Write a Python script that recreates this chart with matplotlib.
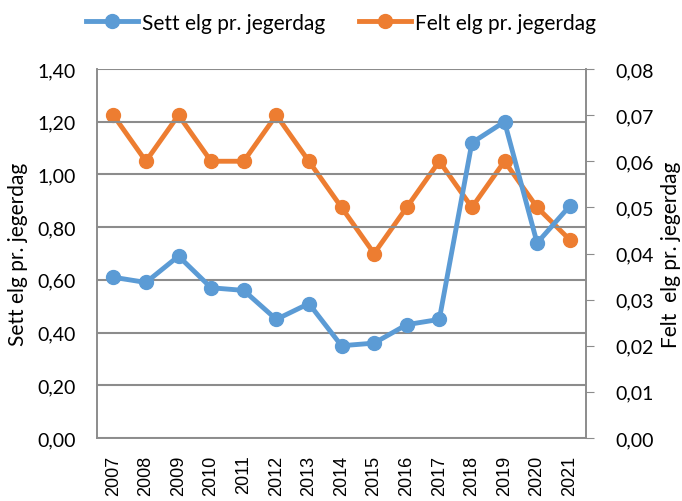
import matplotlib
matplotlib.use("Agg")
import matplotlib.pyplot as plt
from matplotlib.ticker import FuncFormatter

years = ["2007", "2008", "2009", "2010", "2011", "2012", "2013", "2014",
         "2015", "2016", "2017", "2018", "2019", "2020", "2021"]
sett = [0.61, 0.59, 0.69, 0.57, 0.56, 0.45, 0.51, 0.35, 0.36, 0.43, 0.45,
        1.12, 1.20, 0.74, 0.88]
felt = [0.070, 0.060, 0.070, 0.060, 0.060, 0.070, 0.060, 0.050, 0.040,
        0.050, 0.060, 0.050, 0.060, 0.050, 0.043]
left_ticks = [0.0, 0.2, 0.4, 0.6, 0.8, 1.0, 1.2, 1.4]
right_ticks = [0.0, 0.01, 0.02, 0.03, 0.04, 0.05, 0.06, 0.07, 0.08]

blue = "#5B9BD5"
orange = "#ED7D31"
grid = "#8C8C8C"
font = ["Lato", "DejaVu Sans"]

fig = plt.figure(figsize=(6.82, 5.02), dpi=100)
ax = fig.add_axes([97/682, 1-439/502, (586-97)/682, (439-70)/502])
ax2 = ax.twinx()

x = list(range(len(years)))
l1, = ax.plot(x, sett, color=blue, lw=3.5, marker="o", ms=10,
              solid_joinstyle="round", label="Sett elg pr. jegerdag", zorder=3)
l2, = ax2.plot(x, felt, color=orange, lw=3.5, marker="o", ms=10,
               solid_joinstyle="round", label="Felt elg pr. jegerdag", zorder=3)
ax.set_zorder(ax2.get_zorder() + 1)
ax.patch.set_visible(False)

ax.set_xlim(-0.5, len(years) - 0.5)
ax.set_ylim(0, 1.4)
ax2.set_ylim(0, 0.08)
ax.set_yticks(left_ticks)
ax2.set_yticks(right_ticks)
comma2 = FuncFormatter(lambda v, p: f"{v:.2f}".replace(".", ","))
ax.yaxis.set_major_formatter(comma2)
ax2.yaxis.set_major_formatter(comma2)
ax.set_xticks(x)
ax.set_xticklabels(years, rotation=90, fontsize=13, family=["Liberation Sans"])

ax.yaxis.grid(True, color=grid, lw=1.5)
ax.set_axisbelow(True)
for a in (ax, ax2):
    for s in a.spines.values():
        s.set_color(grid)
        s.set_linewidth(1.2)
    a.spines["top"].set_visible(False)
ax.tick_params(axis="y", length=0, labelsize=14, pad=15)
ax.tick_params(axis="x", length=0, pad=12)
ax2.tick_params(axis="y", length=6, color=grid, labelsize=14, pad=15)
for lab in ax.get_yticklabels() + ax2.get_yticklabels():
    lab.set_family(font)

ax.set_ylabel("Sett elg pr. jegerdag", fontsize=15, family=font, labelpad=7)
ax2.set_ylabel("Felt  elg pr. jegerdag", fontsize=15, family=font, labelpad=5)

fig.legend(handles=[l1, l2], loc="upper center", bbox_to_anchor=(0.5, 1.01),
           ncol=2, frameon=False, prop={"family": font, "size": 15},
           handlelength=2.5, columnspacing=1.6, handletextpad=0.2)

fig.savefig("out.png", dpi=100)
